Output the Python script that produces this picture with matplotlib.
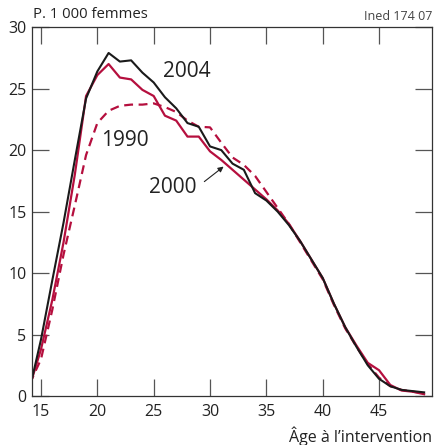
import matplotlib.pyplot as plt

plt.rcParams['font.family'] = ['Open Sans', 'DejaVu Sans']

# Data: abortions per 1 000 women by age
ages = list(range(14, 50))
y2004 = [0.6, 4.6, 9.4, 14.1, 19.2, 24.2, 26.4, 27.9, 27.2, 27.3, 26.3, 25.5,
         24.3, 23.4, 22.2, 21.9, 20.3, 20.0, 18.9, 18.4, 16.5, 15.9, 15.0, 13.9,
         12.6, 11.1, 9.6, 7.5, 5.6, 4.0, 2.5, 1.4, 0.8, 0.5, 0.4, 0.3]
y2000 = [0.8, 3.8, 7.8, 12.5, 18.0, 24.4, 26.1, 27.0, 25.9, 25.75, 24.9, 24.4,
         22.8, 22.4, 21.1, 21.1, 19.9, 19.2, 18.4, 17.6, 16.8, 16.0, 15.1, 14.0,
         12.6, 11.1, 9.6, 7.5, 5.6, 4.1, 2.7, 2.1, 0.9, 0.45, 0.35, 0.15]
y1990 = [1.0, 3.0, 7.0, 11.5, 15.5, 19.6, 22.2, 23.2, 23.6, 23.7, 23.7, 23.8,
         23.5, 23.1, 22.4, 21.9, 21.85, 20.6, 19.4, 18.8, 17.9, 16.6, 15.3, 14.0,
         12.5, 11.0, 9.5, 7.4, 5.5, 4.0, 2.6, 1.5, 0.8, 0.5, 0.35, 0.25]

xticks = [15, 20, 25, 30, 35, 40, 45]
yticks = [0, 5, 10, 15, 20, 25, 30]

crimson = '#b50f3e'

fig = plt.figure(figsize=(4.34, 4.45), dpi=100)
ax = fig.add_axes([0.0737, 0.110, 0.9217, 0.829])

ax.plot(ages, y1990, color=crimson, lw=1.6, dashes=(4, 2.5))
ax.plot(ages, y2000, color=crimson, lw=1.6)
ax.plot(ages, y2004, color='#1a1a1a', lw=1.5)

ax.set_xlim(14.2, 49.7)
ax.set_ylim(0, 30)
ax.set_xticks(xticks)
ax.set_yticks(yticks)

ax.tick_params(direction='in', length=12, width=0.9, color='#555555',
               labelsize=11.5, labelcolor='#222222', top=True, right=True)
ax.tick_params(axis='x', pad=6)
ax.tick_params(axis='y', pad=4)
for s in ax.spines.values():
    s.set_linewidth(0.9)
    s.set_color('#333333')

# series labels
ax.text(27.9, 26.4, '2004', fontsize=15, ha='center', va='center', color='#222222')
ax.text(22.4, 20.8, '1990', fontsize=15, ha='center', va='center', color='#222222')
ax.text(26.7, 17.0, '2000', fontsize=15, ha='center', va='center', color='#222222')
ax.annotate('', xy=(31.4, 18.8), xytext=(29.3, 17.3),
            arrowprops=dict(arrowstyle='-|>', color='#222222', lw=0.8,
                            mutation_scale=8))

fig.text(33 / 434, 1 - 15 / 445, 'P. 1 000 femmes', fontsize=10.7,
         ha='left', va='center', color='#222222')
fig.text(432 / 434, 1 - 16 / 445, 'Ined 174 07', fontsize=9,
         ha='right', va='center', color='#444444')
fig.text(432 / 434, 1 - 436 / 445, 'Âge à l’intervention', fontsize=11.5,
         ha='right', va='center', color='#222222')

fig.savefig('out.png', dpi=100)
